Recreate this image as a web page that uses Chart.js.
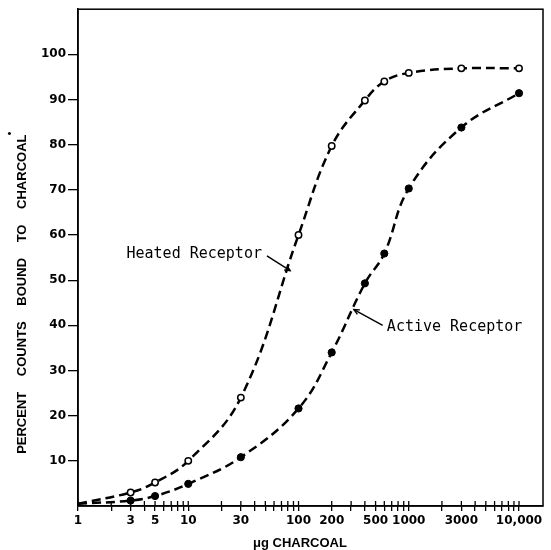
<!DOCTYPE html>
<html><head><meta charset="utf-8">
<script src="https://cdn.jsdelivr.net/npm/chart.js@4.4.0/dist/chart.umd.min.js"></script>
<style>html,body{margin:0;padding:0;background:#fff}#wrap{width:551px;height:550px}</style>
</head><body><div id="wrap"><canvas id="c" width="551" height="550"></canvas></div>
<script>
// ---- data ----
const doses = [1, 3, 5, 10, 30, 100, 200, 400, 600, 1000, 3000, 10000];
const heatedReceptor = [0.5, 3.0, 5.2, 10.0, 24.0, 60.0, 79.7, 89.8, 94.0, 95.9, 96.9, 96.9];
const activeReceptor = [0.5, 1.2, 2.2, 4.9, 10.8, 21.6, 34.0, 49.3, 55.9, 70.3, 83.8, 91.4];
const xTickValues = [1,2,3,4,5,6,7,8,9,10,20,30,40,50,60,70,80,90,100,200,300,400,500,600,700,800,900,1000,2000,3000,4000,5000,6000,7000,8000,9000,10000];
const xTickLabels = {1:'1',3:'3',5:'5',10:'10',30:'30',100:'100',200:'200',500:'500',1000:'1000',3000:'3000',10000:'10,000'};
const yTickValues = [10,20,30,40,50,60,70,80,90,100];
const yTitle = 'PERCENT COUNTS BOUND TO CHARCOAL';
const xTitle = 'μg CHARCOAL';
const annotationTexts = ['Heated Receptor', 'Active Receptor'];

const decor = {
  id: 'decor',
  afterDraw(chart, args, opts) {
    const {ctx, chartArea: a, scales: {x, y}} = chart;
    ctx.save();
    ctx.strokeStyle = '#000';
    ctx.fillStyle = '#000';
    ctx.lineWidth = 1.5;
    ctx.strokeRect(a.left, a.top, a.right - a.left, a.bottom - a.top);
    // inner halves of crossing x ticks
    ctx.lineWidth = 1.3;
    xTickValues.forEach(v => {
      const px = x.getPixelForValue(v);
      ctx.beginPath(); ctx.moveTo(px, a.bottom); ctx.lineTo(px, a.bottom - 5); ctx.stroke();
    });
    // y title
    ctx.save();
    ctx.font = 'bold 13px "Liberation Sans", Arial, sans-serif';
    try { ctx.wordSpacing = '12px'; } catch (e) {}
    ctx.translate(22, a.top + 285);
    ctx.rotate(-Math.PI / 2);
    ctx.textAlign = 'center'; ctx.textBaseline = 'middle';
    ctx.fillText(yTitle, 0, 0);
    const w = ctx.measureText(yTitle).width;
    ctx.font = 'bold 10px "Liberation Sans", Arial, sans-serif';
    ctx.fillText('•', w / 2 + 1, -12);
    ctx.restore();
    // x title
    ctx.save();
    ctx.font = 'bold 13px "Liberation Sans", Arial, sans-serif';
    ctx.textAlign = 'center'; ctx.textBaseline = 'middle';
    ctx.fillText(xTitle, 300, a.bottom + 37);
    ctx.restore();
    // annotations
    const anns = opts.items;
    ctx.font = '15px "DejaVu Sans Mono", monospace';
    ctx.textBaseline = 'middle';
    anns.forEach((an, i) => {
      ctx.textAlign = an.align;
      ctx.fillText(annotationTexts[i], x.getPixelForValue(an.tx), y.getPixelForValue(an.ty));
      const x1 = x.getPixelForValue(an.from[0]), y1 = y.getPixelForValue(an.from[1]);
      const x2 = x.getPixelForValue(an.to[0]), y2 = y.getPixelForValue(an.to[1]);
      ctx.lineWidth = 1.4;
      ctx.beginPath(); ctx.moveTo(x1, y1); ctx.lineTo(x2, y2); ctx.stroke();
      const ang = Math.atan2(y2 - y1, x2 - x1), L = 6;
      ctx.beginPath();
      ctx.moveTo(x2 - L * Math.cos(ang - 0.45), y2 - L * Math.sin(ang - 0.45));
      ctx.lineTo(x2, y2);
      ctx.lineTo(x2 - L * Math.cos(ang + 0.45), y2 - L * Math.sin(ang + 0.45));
      ctx.stroke();
    });
    ctx.restore();
  }
};

const tickFont = {family: '"DejaVu Sans", sans-serif', weight: 'bold', size: 12};

new Chart(document.getElementById('c'), {
  type: 'line',
  data: {
    datasets: [
      {
        label: 'Heated Receptor',
        data: doses.map((d, i) => ({x: d, y: heatedReceptor[i]})),
        borderColor: '#000', borderWidth: 2.5, borderDash: [9, 5],
        tension: 0.4, fill: false,
        pointRadius: doses.map((d, i) => i === 0 ? 0 : 3.2),
        pointBackgroundColor: '#fff', pointBorderColor: '#000', pointBorderWidth: 1.5
      },
      {
        label: 'Active Receptor',
        data: doses.map((d, i) => ({x: d, y: activeReceptor[i]})),
        borderColor: '#000', borderWidth: 2.5, borderDash: [9, 5],
        tension: 0.4, fill: false,
        pointRadius: doses.map((d, i) => i === 0 ? 0 : 3.6),
        pointBackgroundColor: '#000', pointBorderColor: '#000', pointBorderWidth: 1
      }
    ]
  },
  options: {
    responsive: false,
    animation: false,
    events: [],
    layout: {padding: {top: 8, right: 8, left: 0, bottom: 0}},
    plugins: {
      legend: {display: false},
      tooltip: {enabled: false},
      decor: {
        items: [
          {align: 'right', tx: 46.6, ty: 55.8, from: [51.7, 55.4], to: [84, 52.1]},
          {align: 'left', tx: 633, ty: 39.5, from: [580, 40], to: [318, 43.5]}
        ]
      }
    },
    scales: {
      x: {
        type: 'logarithmic', min: 1, max: 16500,
        afterBuildTicks: s => { s.ticks = xTickValues.map(v => ({value: v})); },
        afterFit: s => { s.height = 44; },
        ticks: {
          autoSkip: false, maxRotation: 0, minRotation: 0, padding: 3, color: '#000', font: tickFont,
          callback: v => (xTickLabels[v] !== undefined ? xTickLabels[v] : '')
        },
        grid: {drawOnChartArea: false, drawTicks: true, tickLength: 5, color: '#000', lineWidth: 1.3},
        border: {display: true, color: '#000', width: 1.5}
      },
      y: {
        min: 0, max: 110,
        afterBuildTicks: s => { s.ticks = yTickValues.map(v => ({value: v})); },
        afterFit: s => { s.width = 78; },
        ticks: {padding: 2, color: '#000', font: tickFont},
        grid: {drawOnChartArea: false, drawTicks: true, tickLength: 10, color: '#000', lineWidth: 1.3},
        border: {display: true, color: '#000', width: 1.5}
      }
    }
  },
  plugins: [decor]
});
</script>
</body></html>
